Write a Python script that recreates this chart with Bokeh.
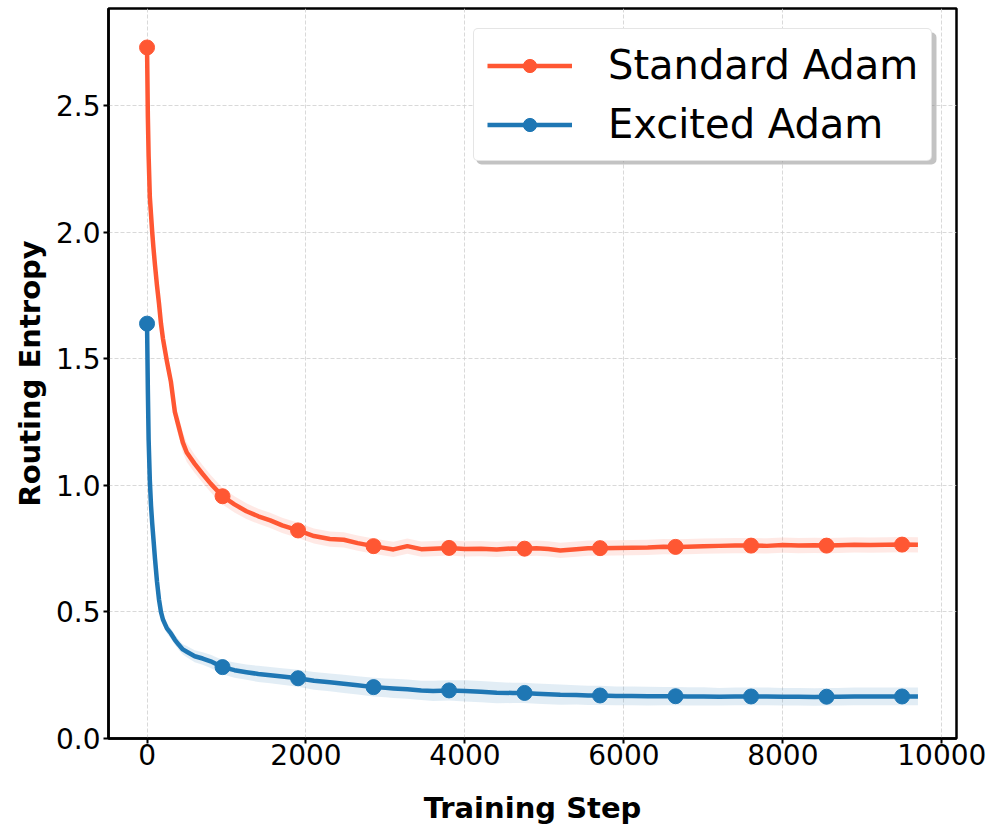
import numpy as np
from bokeh.plotting import figure
from bokeh.models import FixedTicker, PrintfTickFormatter, Range1d, BoxAnnotation
from bokeh.embed import file_html
from bokeh.resources import INLINE

# ---------------- data ----------------
steps = [
    0, 10, 20, 35, 50, 65, 80, 100, 125, 150,
    175, 200, 250, 300, 350, 400, 450, 500, 600, 700,
    800, 950, 1100, 1250, 1400, 1550, 1700, 1900, 2100, 2300,
    2475, 2650, 2850, 3000, 3100, 3275, 3450, 3600, 3800, 4000,
    4200, 4400, 4600, 4750, 4900, 5050, 5200, 5400, 5550, 5700,
    5900, 6100, 6300, 6500, 6650, 6800, 7000, 7200, 7400, 7600,
    7800, 8000, 8200, 8400, 8550, 8700, 8900, 9100, 9300, 9500,
    9700,
]

standard_mean = [
    2.73, 2.46, 2.30, 2.14, 2.07, 2.00, 1.94, 1.87, 1.79, 1.72,
    1.64, 1.58, 1.49, 1.41, 1.29, 1.23, 1.17, 1.13, 1.085, 1.045,
    1.007, 0.957, 0.925, 0.898, 0.878, 0.862, 0.842, 0.822, 0.80, 0.788,
    0.785, 0.772, 0.760, 0.752, 0.747, 0.760, 0.748, 0.750, 0.753, 0.749,
    0.750, 0.747, 0.751, 0.750, 0.752, 0.749, 0.743, 0.748, 0.752, 0.752,
    0.753, 0.754, 0.755, 0.758, 0.757, 0.758, 0.760, 0.761, 0.762, 0.762,
    0.761, 0.764, 0.762, 0.763, 0.762, 0.763, 0.765, 0.764, 0.765, 0.766,
    0.765,
]

standard_std = [
    0.00, 0.03, 0.035, 0.04, 0.04, 0.04, 0.04, 0.04, 0.04, 0.04,
    0.04, 0.04, 0.04, 0.04, 0.04, 0.04, 0.04, 0.038, 0.036, 0.035,
    0.034, 0.033, 0.032, 0.031, 0.03, 0.03, 0.03, 0.03, 0.03, 0.03,
    0.03, 0.03, 0.03, 0.03, 0.03, 0.03, 0.03, 0.03, 0.03, 0.03,
    0.03, 0.03, 0.03, 0.03, 0.03, 0.03, 0.03, 0.03, 0.03, 0.03,
    0.03, 0.03, 0.03, 0.03, 0.03, 0.03, 0.03, 0.03, 0.03, 0.03,
    0.03, 0.03, 0.03, 0.03, 0.03, 0.03, 0.03, 0.03, 0.03, 0.03,
    0.03,
]

excited_mean = [
    1.639, 1.38, 1.18, 1.02, 0.92, 0.85, 0.79, 0.71, 0.62, 0.55,
    0.50, 0.47, 0.435, 0.415, 0.39, 0.37, 0.352, 0.343, 0.325, 0.316,
    0.305, 0.282, 0.27, 0.262, 0.255, 0.25, 0.245, 0.238, 0.228, 0.222,
    0.216, 0.21, 0.203, 0.20, 0.198, 0.195, 0.19, 0.188, 0.19, 0.188,
    0.185, 0.181, 0.18, 0.18, 0.177, 0.175, 0.173, 0.172, 0.17, 0.17,
    0.168, 0.168, 0.167, 0.167, 0.167, 0.166, 0.166, 0.165, 0.166, 0.166,
    0.166, 0.165, 0.165, 0.164, 0.165, 0.165, 0.166, 0.166, 0.166, 0.166,
    0.166,
]

excited_std = [
    0.00, 0.01, 0.015, 0.02, 0.02, 0.02, 0.02, 0.02, 0.02, 0.02,
    0.02, 0.02, 0.02, 0.02, 0.02, 0.02, 0.02, 0.022, 0.024, 0.025,
    0.026, 0.028, 0.03, 0.03, 0.032, 0.032, 0.033, 0.034, 0.035, 0.035,
    0.036, 0.036, 0.037, 0.037, 0.038, 0.038, 0.038, 0.04, 0.04, 0.042,
    0.042, 0.042, 0.04, 0.04, 0.04, 0.04, 0.04, 0.038, 0.038, 0.038,
    0.037, 0.037, 0.037, 0.036, 0.036, 0.036, 0.036, 0.035, 0.035, 0.035,
    0.035, 0.035, 0.035, 0.035, 0.035, 0.035, 0.035, 0.035, 0.035, 0.035,
    0.035,
]

marker_steps = [0, 950, 1900, 2850, 3800, 4750, 5700, 6650, 7600, 8550, 9500]
x_ticks = [0, 2000, 4000, 6000, 8000, 10000]
y_ticks = [0.0, 0.5, 1.0, 1.5, 2.0, 2.5]

series_names = ["Standard Adam", "Excited Adam"]
series_colors = ["#FF5733", "#1F77B4"]

# ---------------- figure ----------------
FONT = "DejaVu Sans"
p = figure(
    width=996, height=829,
    output_backend="svg", toolbar_location=None,
    x_range=Range1d(-485, 10185), y_range=Range1d(0, 2.884),
    min_border_left=108, min_border_right=40,
    min_border_top=8, min_border_bottom=91,
    background_fill_color="white", border_fill_color="white",
)

p.outline_line_color = "black"
p.outline_line_width = 2.5
p.outline_line_alpha = 1.0

p.xaxis.ticker = FixedTicker(ticks=x_ticks)
p.yaxis.ticker = FixedTicker(ticks=y_ticks)
p.yaxis.formatter = PrintfTickFormatter(format="%.1f")
p.xaxis.formatter = PrintfTickFormatter(format="%d")

for ax in (p.xaxis, p.yaxis):
    ax.axis_line_color = "black"
    ax.axis_line_width = 2.5
    ax.major_tick_line_color = "black"
    ax.major_tick_line_width = 2
    ax.major_tick_out = 5
    ax.major_tick_in = 0
    ax.minor_tick_line_color = None
    ax.major_label_text_font = FONT
    ax.major_label_text_font_size = "28px"
    ax.major_label_text_color = "black"
    ax.axis_label_text_font = FONT
    ax.axis_label_text_font_size = "29px"
    ax.axis_label_text_font_style = "bold"
    ax.axis_label_text_color = "black"

p.xaxis.axis_label = "Training Step"
p.yaxis.axis_label = "Routing Entropy"
p.xaxis.major_label_standoff = 0
p.yaxis.major_label_standoff = 3
p.xaxis.axis_label_standoff = 23
p.yaxis.axis_label_standoff = 6

p.grid.grid_line_color = "#d0d0d0"
p.grid.grid_line_alpha = 0.8
p.grid.grid_line_width = 1
p.grid.grid_line_dash = "4 2"

# legend box geometry (screen px, relative to the frame's bottom-left)
LEG_X, LEG_Y, LEG_W, LEG_H = 365, 577, 460, 132
shadow = BoxAnnotation(left=LEG_X + 3, right=LEG_X + LEG_W + 3,
                       bottom=LEG_Y - 3, top=LEG_Y + LEG_H - 3,
                       left_units="screen", right_units="screen",
                       top_units="screen", bottom_units="screen",
                       fill_color="#888888", fill_alpha=0.5, line_color=None,
                       level="annotation")
if "border_radius" in shadow.properties():
    shadow.border_radius = 5
p.add_layout(shadow)

x = np.array(steps, dtype=float)
mask = np.isin(x, marker_steps)
means = [np.array(standard_mean), np.array(excited_mean)]
stds = [np.array(standard_std), np.array(excited_std)]

for name, color, m, s in zip(series_names, series_colors, means, stds):
    p.varea(x=x, y1=m - s, y2=m + s, fill_color=color, fill_alpha=0.13)

for name, color, m in zip(series_names, series_colors, means):
    p.line(x, m, line_color=color, line_width=4.5, line_join="round",
           legend_label=name)
    p.scatter(x[mask], m[mask], size=15, fill_color=color, line_color=color,
              legend_label=name)

leg = p.legend[0]
leg.location = (LEG_X, LEG_Y)
leg.margin = 0
leg.padding = 13
leg.spacing = 13
leg.label_height = 42
leg.glyph_height = 33
leg.glyph_width = 85
leg.label_standoff = 36
leg.label_text_font = FONT
leg.label_text_font_size = "40px"
leg.label_text_color = "black"
leg.border_line_color = "#cccccc"
leg.border_line_width = 1.2
leg.background_fill_color = "white"
leg.background_fill_alpha = 1.0
if "border_radius" in leg.properties():
    leg.border_radius = 5

open("out.html", "w").write(file_html(p, INLINE))
